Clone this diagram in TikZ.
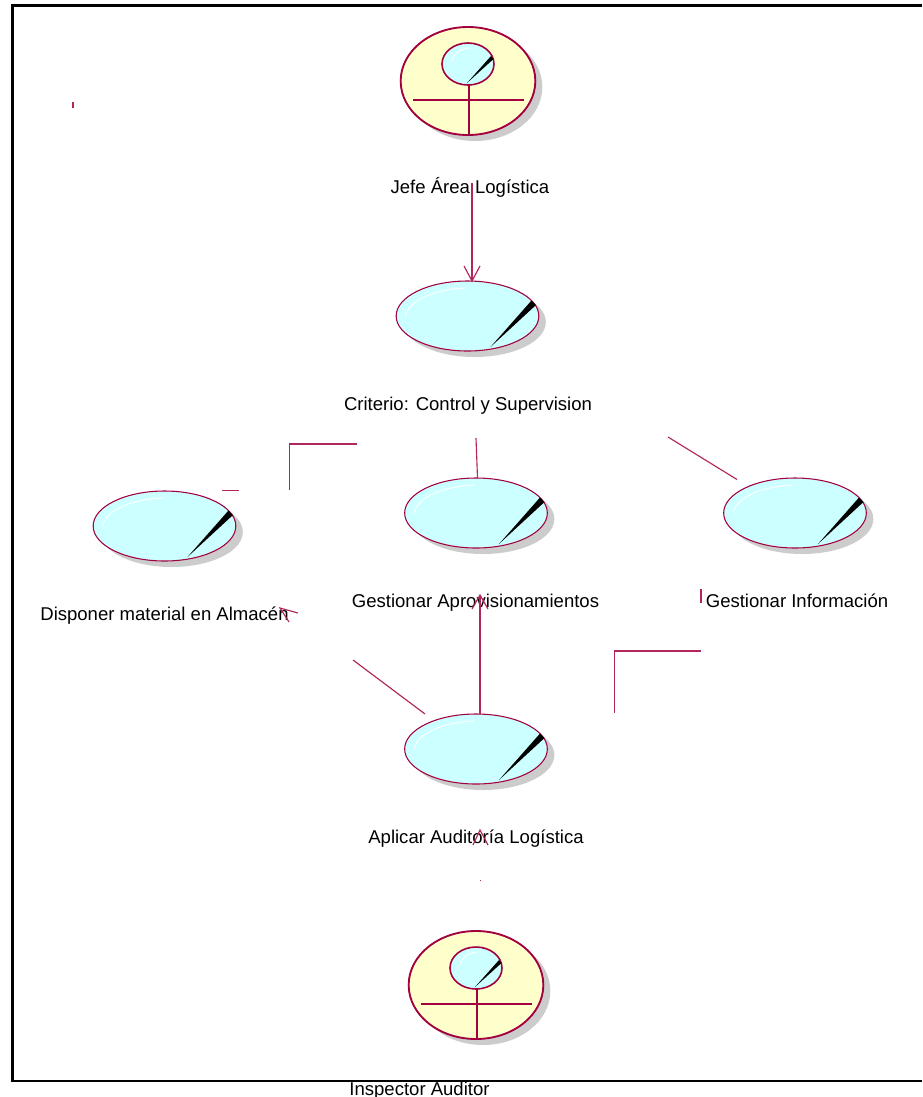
\documentclass[tikz,border=0pt]{standalone}
\usepackage{fontspec}
\setmainfont{Liberation Sans}
\usetikzlibrary{shapes.geometric}
\definecolor{umlline}{HTML}{A3003F}
\definecolor{umlcase}{HTML}{CCFFFF}
\definecolor{umlactor}{HTML}{FFFFCC}
\definecolor{umlshadow}{HTML}{CCCCCC}
\tikzset{
  x=0.75pt,y=-0.75pt,
  casebody/.style={shape=ellipse,draw=umlline,fill=umlcase,line width=0.8pt,inner sep=0pt,minimum width=107pt,minimum height=52.5pt},
  caseshadow/.style={shape=ellipse,fill=umlshadow,draw=none,inner sep=0pt,minimum width=107pt,minimum height=52.5pt},
  actorbody/.style={shape=ellipse,draw=umlline,fill=umlactor,line width=1.4pt,inner sep=0pt,minimum width=101pt,minimum height=81pt},
  actorshadow/.style={shape=ellipse,fill=umlshadow,draw=none,inner sep=0pt,minimum width=101pt,minimum height=81pt},
  actorhead/.style={shape=ellipse,draw=umlline,fill=umlcase,line width=1.2pt,inner sep=0pt,minimum width=39pt,minimum height=31.5pt},
  actorline/.style={draw=umlline,line width=1.4pt},
  gloss/.style={draw=white,line width=0.7pt,line cap=round},
  label/.style={font=\fontsize{13.9pt}{15pt}\selectfont,text=black,inner sep=0pt,anchor=base},
  conn/.style={draw=umlline!85!white,line width=0.85pt},
}
% use case: name, centre x, centre y
\newcommand{\usecase}[3]{%
  \node[caseshadow] at (#2+7,#3+6) {};
  \node[casebody] (#1) at (#2,#3) {};
  \begin{scope}[shift={(#2,#3)}]
    \fill[black] (23,31) -- (64,-15.5) -- (68.5,-11) -- cycle;
    \draw[gloss] (-62,0) .. controls (-58,-18) and (-28,-27) .. (-2,-28);
  \end{scope}}
% actor: name, centre x, centre y
\newcommand{\umlactorfig}[3]{%
  \node[actorshadow] at (#2+7,#3+6) {};
  \node[actorbody] (#1) at (#2,#3) {};
  \begin{scope}[shift={(#2,#3)}]
    \draw[actorline] (-55,19) -- (56,19);
    \draw[actorline] (1,3) -- (1,53);
    \node[actorhead] (#1head) at (0,-17) {};
    \fill[black] (-1,2) -- (23,-25) -- (25.5,-22) -- cycle;
    \draw[gloss] (-16,-20) .. controls (-14,-28) and (-8,-32) .. (1,-33);
  \end{scope}}
\begin{document}
\begin{tikzpicture}
\useasboundingbox (0,0) rectangle (922,1097);
\fill[white] (0,0) rectangle (922,1097);
% frame
\coordinate (frameTR) at (922,5.5);
\coordinate (frameTL) at (12.5,5.5);
\coordinate (frameBL) at (12.5,1081);
\coordinate (frameBR) at (922,1081);
\draw[black,line width=1.9pt] (frameTR) -- (frameTL) -- (frameBL) -- (frameBR);

\umlactorfig{jefe}{468}{81}
\usecase{crit}{467.5}{316}
\usecase{disp}{164.5}{526}
\usecase{aprov}{476}{513}
\usecase{info}{795}{513}
\usecase{aud}{476}{749}
\umlactorfig{insp}{476}{985}

% connector end points
\coordinate (a1) at (472,183);  \coordinate (a2) at (472,281);
\coordinate (a2l) at (464,266); \coordinate (a2r) at (480,266);
\coordinate (b1) at (222,490.5); \coordinate (b2) at (239,490.5);
\coordinate (c1) at (289.5,490); \coordinate (c2) at (289.5,444); \coordinate (c3) at (357,444);
\coordinate (d1) at (476,438); \coordinate (d2) at (477.5,478);
\coordinate (e1) at (668,437); \coordinate (e2) at (737,479.5);
\coordinate (f1) at (353,660); \coordinate (f2) at (425,714);
\coordinate (g1) at (480,714); \coordinate (g2) at (480,595);
\coordinate (g2l) at (472,609); \coordinate (g2r) at (488,609);
\coordinate (h1) at (614.5,713); \coordinate (h2) at (614.5,651); \coordinate (h3) at (701,651);
\coordinate (i1) at (701,589); \coordinate (i2) at (701,603);
\coordinate (j0) at (280,608); \coordinate (jl) at (298,613); \coordinate (jr) at (289,622);
\coordinate (k0) at (480,830); \coordinate (kl) at (473,845); \coordinate (kr) at (488,845);
\coordinate (t1) at (73,102); \coordinate (t2) at (73,108);
\coordinate (p1) at (480.5,880); \coordinate (p2) at (480.5,881);

% labels
\node[label] (ljefe) at (470,193.5) {Jefe Área Logística};
\node[label] (lcrit) at (468,410) {Criterio: Control y Supervision};
\node[label] (ldisp) at (164.5,620.5) {Disponer material en Almacén};
\node[label] (laprov) at (475.5,607.5) {Gestionar Aprovisionamientos};
\node[label] (linfo) at (797,607.5) {Gestionar Información};
\node[label] (laud) at (476,843.5) {Aplicar Auditoría Logística};
\node[label] (linsp) at (419.5,1095) {Inspector Auditor};

\draw[conn] (a1) -- (a2);
\draw[conn] (a2l) -- (a2) -- (a2r);
\draw[conn] (b1) -- (b2);
\draw[conn] (c1) -- (c2) -- (c3);
\draw[conn] (d1) -- (d2);
\draw[conn] (e1) -- (e2);
\draw[conn] (f1) -- (f2);
\draw[conn] (g1) -- (g2);
\draw[conn] (g2l) -- (g2) -- (g2r);
\draw[conn] (h1) -- (h2) -- (h3);
\draw[conn] (i1) -- (i2);
\draw[conn] (jl) -- (j0) -- (jr);
\draw[conn] (kl) -- (k0) -- (kr);
\draw[conn] (t1) -- (t2);
\draw[conn] (p1) -- (p2);
\end{tikzpicture}
\end{document}
